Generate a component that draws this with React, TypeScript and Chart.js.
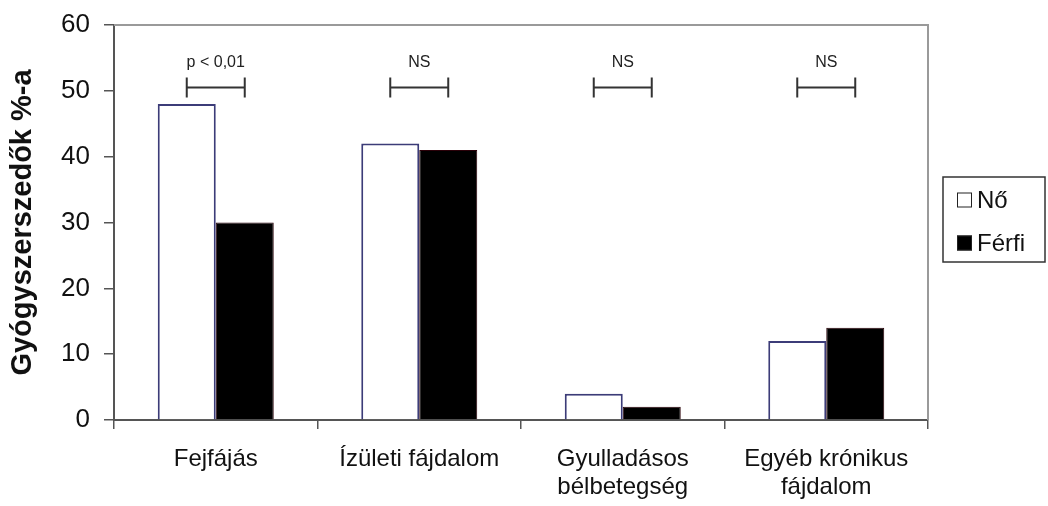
import React, { useEffect, useRef } from "react";
import { Chart, registerables } from "chart.js";

Chart.register(...registerables);

const categories: string[][] = [
  ["Fejfájás"],
  ["Ízületi fájdalom"],
  ["Gyulladásos", "bélbetegség"],
  ["Egyéb krónikus", "fájdalom"],
];
const seriesNames = ["Nő", "Férfi"];
const noValues = [48, 42, 4, 12];
const ferfiValues = [30, 41, 2, 14];
const significanceLabels = ["p < 0,01", "NS", "NS", "NS"];
const bracketLevel = 50.5;
const yMin = 0;
const yMax = 60;
const yStep = 10;

const FONT = "'Liberation Sans', Arial, sans-serif";

const extrasPlugin = {
  id: "extras",
  afterDraw(chart: any) {
    const { ctx, chartArea } = chart;
    const { left, right, top, bottom } = chartArea;
    ctx.save();
    // top & right plot border
    ctx.strokeStyle = "#9a9a9a";
    ctx.lineWidth = 2;
    ctx.beginPath();
    ctx.moveTo(left, top);
    ctx.lineTo(right, top);
    ctx.lineTo(right, bottom);
    ctx.stroke();

    // significance brackets
    const yScale = chart.scales.y;
    const m0 = chart.getDatasetMeta(0);
    const m1 = chart.getDatasetMeta(1);
    const by = yScale.getPixelForValue(bracketLevel);
    ctx.strokeStyle = "#333";
    ctx.lineWidth = 2;
    ctx.fillStyle = "#222";
    ctx.font = `16px ${FONT}`;
    ctx.textAlign = "center";
    ctx.textBaseline = "middle";
    significanceLabels.forEach((lab, i) => {
      const x1 = m0.data[i].x;
      const x2 = m1.data[i].x;
      ctx.beginPath();
      ctx.moveTo(x1, by);
      ctx.lineTo(x2, by);
      ctx.moveTo(x1, by - 10);
      ctx.lineTo(x1, by + 10);
      ctx.moveTo(x2, by - 10);
      ctx.lineTo(x2, by + 10);
      ctx.stroke();
      ctx.fillText(lab, (x1 + x2) / 2, by - 25);
    });

    // legend
    const lx = 943, ly = 177, lw = 102, lh = 85;
    ctx.strokeStyle = "#333";
    ctx.lineWidth = 1.5;
    ctx.strokeRect(lx, ly, lw, lh);
    const rows = [200, 243];
    ctx.font = `24px ${FONT}`;
    ctx.textAlign = "left";
    ctx.textBaseline = "middle";
    chart.data.datasets.forEach((ds: any, i: number) => {
      const cy = rows[i];
      ctx.fillStyle = ds.backgroundColor;
      ctx.fillRect(957, cy - 7.5, 15, 15);
      ctx.strokeStyle = "#222";
      ctx.lineWidth = 1;
      ctx.strokeRect(957.5, cy - 7, 14, 14);
      ctx.fillStyle = "#111";
      ctx.fillText(ds.label, 977, cy + 1);
    });
    ctx.restore();
  },
};

export default function App() {
  const ref = useRef<HTMLCanvasElement>(null);
  useEffect(() => {
    if (!ref.current) return;
    const chart = new Chart(ref.current, {
      type: "bar",
      data: {
        labels: categories,
        datasets: [
          {
            label: seriesNames[0],
            data: noValues,
            backgroundColor: "#ffffff",
            borderColor: "#3c3c78",
            borderWidth: 2,
            categoryPercentage: 0.57,
            barPercentage: 1.0,
          },
          {
            label: seriesNames[1],
            data: ferfiValues,
            backgroundColor: "#000000",
            borderColor: "#2a0008",
            borderWidth: 1,
            categoryPercentage: 0.57,
            barPercentage: 1.0,
          },
        ],
      },
      options: {
        responsive: false,
        animation: false,
        layout: { padding: { top: 25, right: 120, left: 0, bottom: 0 } },
        plugins: {
          legend: { display: false },
          tooltip: { enabled: false },
        },
        scales: {
          x: {
            offset: true,
            grid: {
              offset: true,
              drawOnChartArea: false,
              tickLength: 9,
              color: "#555",
              lineWidth: 1.5,
            },
            border: { display: true, color: "#555", width: 2 },
            ticks: {
              color: "#111",
              padding: 16,
              font: { family: FONT, size: 24, lineHeight: 1.17 },
              maxRotation: 0,
              autoSkip: false,
            },
            afterFit: (s: any) => {
              s.height = 86;
              s.paddingLeft = 0;
              s.paddingRight = 0;
            },
          },
          y: {
            min: yMin,
            max: yMax,
            ticks: {
              stepSize: yStep,
              color: "#111",
              padding: 14,
              font: { family: FONT, size: 26 },
            },
            grid: {
              drawOnChartArea: false,
              tickLength: 10,
              color: "#555",
              lineWidth: 1.5,
            },
            border: { display: true, color: "#555", width: 2 },
            title: {
              display: true,
              text: "Gyógyszerszedők %-a",
              color: "#111",
              font: { family: FONT, size: 29, weight: "bold", lineHeight: 1.1 },
              padding: { top: 7, bottom: 0 },
            },
            afterFit: (s: any) => {
              s.width = 114;
              s.paddingTop = 0;
              s.paddingBottom = 0;
            },
          },
        },
      },
      plugins: [extrasPlugin],
    });
    return () => chart.destroy();
  }, []);
  return (
    <div style={{ position: "fixed", left: 0, top: 0, width: 1048, height: 506, background: "#fff" }}>
      <canvas ref={ref} width={1048} height={506} style={{ width: 1048, height: 506, display: "block" }} />
    </div>
  );
}
